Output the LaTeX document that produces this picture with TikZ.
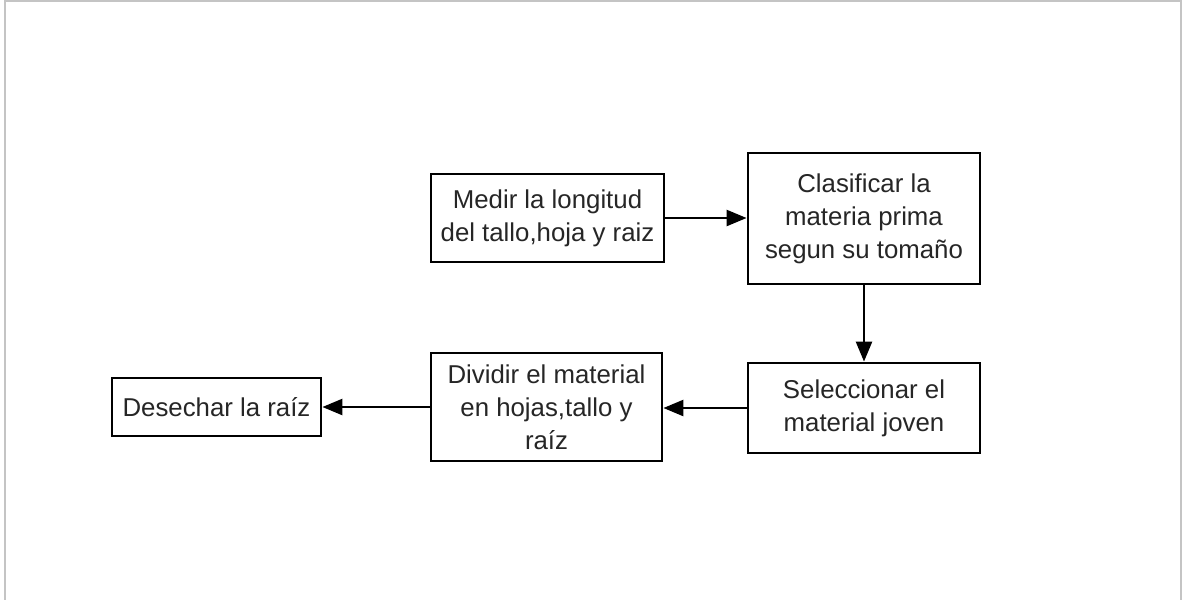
\documentclass[tikz,border=0pt]{standalone}
\usepackage{fontspec}
\setmainfont{Liberation Sans}
\usetikzlibrary{arrows.meta}
\definecolor{framegray}{HTML}{C4C4C4}
\definecolor{txt}{HTML}{262626}
\begin{document}
\begin{tikzpicture}[x=1pt,y=-1pt,
  stepbox/.style={draw=black, line width=2.8pt, fill=white, align=center,
    text=txt, inner sep=0pt,
    font=\fontsize{25.8pt}{33pt}\selectfont},
  flow/.style={draw=black, line width=2.4pt,
    -{Triangle[length=20pt,width=16pt]}}]
  \useasboundingbox (0,0) rectangle (1184,600);
  \fill[white] (0,0) rectangle (1184,600);
  % outer frame (left, top, right)
  \draw[framegray, line width=2pt] (5,600) -- (5,1) -- (1181,1) -- (1181,600);

  \node[stepbox, minimum width=233pt, minimum height=88pt] (medir) at (547.5,218)
    {Medir la longitud\\del tallo,hoja y raiz};
  \node[stepbox, minimum width=232pt, minimum height=131pt] (clasif) at (864,218.5)
    {Clasificar la\\materia prima\\segun su tomaño};
  \node[stepbox, minimum width=232pt, minimum height=90pt] (selec) at (864,408)
    {Seleccionar el\\material joven};
  \node[stepbox, minimum width=231pt, minimum height=108pt] (dividir) at (546.5,407)
    {Dividir el material\\en hojas,tallo y\\raíz};
  \node[stepbox, minimum width=209pt, minimum height=58pt] (desechar) at (216.5,407)
    {Desechar la raíz};

  \draw[flow] (medir.east) -- (medir.east -| clasif.west);
  \draw[flow] (clasif.south) -- (selec.north);
  \draw[flow] (selec.west) -- (selec.west -| dividir.east);
  \draw[flow] (dividir.west) -- (dividir.west -| desechar.east);
\end{tikzpicture}
\end{document}
